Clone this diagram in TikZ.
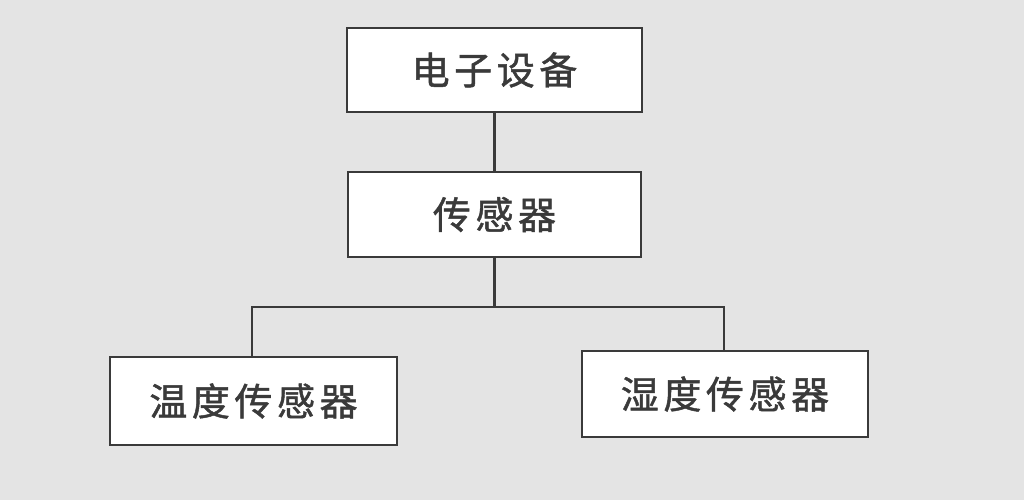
\documentclass[tikz,border=0pt]{standalone}
\usepackage{fontspec}
\newfontfamily\cjk[LetterSpace=12,FakeBold=1.2]{Noto Sans CJK SC}
\definecolor{bg}{HTML}{E4E4E4}
\definecolor{ink}{HTML}{3A3A3A}
\begin{document}
\begin{tikzpicture}[x=1pt,y=-1pt,
  box/.style={draw=ink, line width=2.8pt, fill=white, text=ink, font=\cjk\fontsize{38}{40}\selectfont, inner sep=0pt},
  conn/.style={draw=ink, line width=2.2pt}]
\fill[bg] (0,0) rectangle (1024,500);
\useasboundingbox (0,0) rectangle (1024,500);
\node[box, minimum width=295pt, minimum height=84pt] (a) at (494.5,70) {电子设备};
\node[box, minimum width=293pt, minimum height=85pt] (b) at (494.5,214.5) {传感器};
\node[box, minimum width=287pt, minimum height=88pt] (c) at (253.5,401) {温度传感器};
\node[box, minimum width=286pt, minimum height=86pt] (d) at (725,394) {湿度传感器};
\coordinate (j) at (494.5,307);
\draw[conn] (a.south) -- (b.north);
\draw[conn] (b.south) -- (j);
\draw[conn] (c.north -| 252,0) |- (j) -| (d.north -| 724,0);
\end{tikzpicture}
\end{document}
